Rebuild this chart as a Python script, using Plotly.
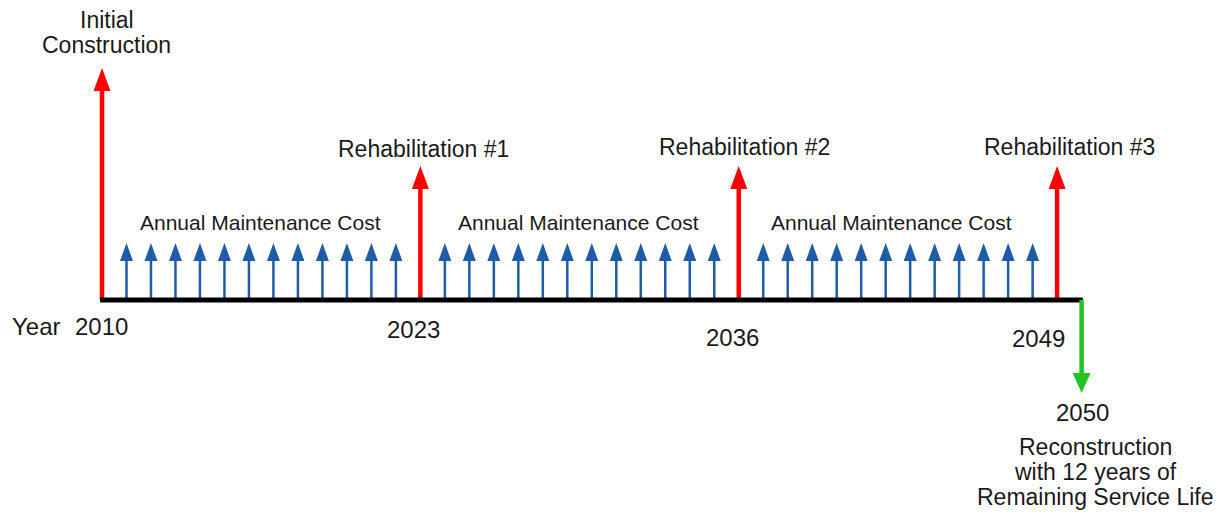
import plotly.graph_objects as go

# cash flow diagram data (heights are relative magnitudes)
initial_year = [2010]
initial_cost = [232]

rehab_years = [2023, 2036, 2049]
rehab_cost = [134, 134, 134]
rehab_labels = ["Rehabilitation #1", "Rehabilitation #2", "Rehabilitation #3"]

maint_years = [2011, 2012, 2013, 2014, 2015, 2016, 2017, 2018, 2019, 2020, 2021, 2022,
               2024, 2025, 2026, 2027, 2028, 2029, 2030, 2031, 2032, 2033, 2034, 2035,
               2037, 2038, 2039, 2040, 2041, 2042, 2043, 2044, 2045, 2046, 2047, 2048]
maint_cost = [57, 57, 57, 57, 57, 57, 57, 57, 57, 57, 57, 57,
              57, 57, 57, 57, 57, 57, 57, 57, 57, 57, 57, 57,
              57, 57, 57, 57, 57, 57, 57, 57, 57, 57, 57, 57]
maint_label_years = [2016.5, 2029.5, 2042.5]

end_year = [2050]
end_value = [-93]

year_ticks = [2010, 2023, 2036, 2049, 2050]
year_tick_labels = ["2010", "2023", "2036", "2049", "2050"]

# layout geometry
W, H = 1224, 513
px_per_year = 24.49
x0_px = 102
x_range = [2010 - x0_px / px_per_year, 2010 + (W - x0_px) / px_per_year]
y_range = [-213, 300]

RED = "#ff0000"
BLUE = "#1f5ca8"
GREEN = "#22c322"
TXT = "#1a1a1a"
FONT = "Arial, Liberation Sans, sans-serif"

fig = go.Figure()


def add_arrows(years, vals, color, shaft_w, head_w, head_h):
    # head_w / head_h in pixels
    hw = head_w / 2 / px_per_year
    sx, sy, hx, hy = [], [], [], []
    for yr, v in zip(years, vals):
        d = 1 if v > 0 else -1
        base = v - d * (head_h - 2)
        sx += [yr, yr, None]
        sy += [0, base, None]
        hx += [yr - hw, yr, yr + hw, yr - hw, None]
        hy += [v - d * head_h, v, v - d * head_h, v - d * head_h, None]
    fig.add_trace(go.Scatter(x=sx, y=sy, mode="lines",
                             line=dict(color=color, width=shaft_w),
                             hoverinfo="skip", showlegend=False))
    fig.add_trace(go.Scatter(x=hx, y=hy, mode="lines", fill="toself",
                             fillcolor=color, line=dict(color=color, width=0),
                             hoverinfo="skip", showlegend=False))


add_arrows(maint_years, maint_cost, BLUE, 2.5, 13, 18)
add_arrows(initial_year, initial_cost, RED, 4.5, 17, 23)
add_arrows(rehab_years, rehab_cost, RED, 4.5, 17, 23)

# time axis
fig.add_trace(go.Scatter(x=[initial_year[0] - 0.08, end_year[0] + 0.05], y=[0, 0],
                         mode="lines", line=dict(color="black", width=5),
                         hoverinfo="skip", showlegend=False))
add_arrows(end_year, end_value, GREEN, 4.5, 18, 20)

ann = []


def label(text, x, dx, dy, size=23):
    ann.append(dict(x=x, y=0, xref="x", yref="y", text=text, showarrow=False,
                    xshift=dx, yshift=dy, font=dict(size=size, color=TXT, family=FONT)))


# year labels
label("Year", year_ticks[0], -66, -26, 24)
year_offsets = [(-1, -26), (-7, -29), (-6, -37), (-19, -38), (1, -112)]
for yr, txt, (dx, dy) in zip(year_ticks, year_tick_labels, year_offsets):
    label(txt, yr, dx, dy, 24)

# event labels
label("Initial", initial_year[0], 5, 280)
label("Construction", initial_year[0], 4, 255)
rehab_offsets = [(3, 151), (6, 153), (12, 153)]
for yr, txt, (dx, dy) in zip(rehab_years, rehab_labels, rehab_offsets):
    label(txt, yr, dx, dy)
maint_offsets = [(-1, 78), (-1, 78), (-6, 78)]
for yr, (dx, dy) in zip(maint_label_years, maint_offsets):
    label("Annual Maintenance Cost", yr, dx, dy, 21)

label("Reconstruction", end_year[0], 14, -147)
label("with 12 years of", end_year[0], 14, -172)
label("Remaining Service Life", end_year[0], 14, -197)

fig.update_layout(
    width=W, height=H,
    margin=dict(l=0, r=0, t=0, b=0),
    plot_bgcolor="white", paper_bgcolor="white",
    xaxis=dict(range=x_range, visible=False, fixedrange=True),
    yaxis=dict(range=y_range, visible=False, fixedrange=True),
    annotations=ann,
    showlegend=False,
)

fig.write_html("out.html", config={"displayModeBar": False},
               post_script="document.body.style.margin='0';")
